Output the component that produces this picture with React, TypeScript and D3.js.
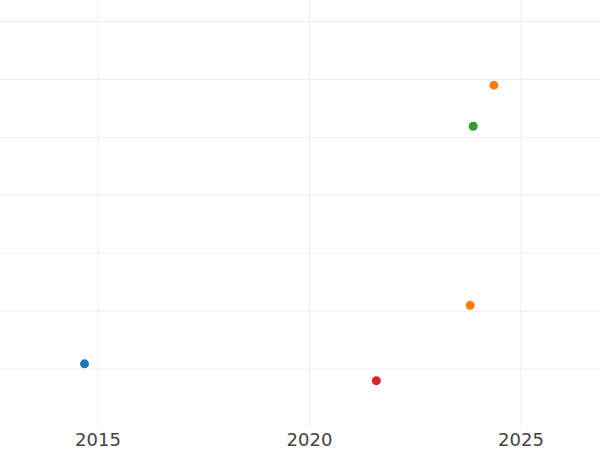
import React from "react";
import * as d3 from "d3";

const WIDTH = 600;
const HEIGHT = 450;

const xTicks = [2015, 2020, 2025];
const yTicks = [0, 10, 20, 30, 40, 50, 60];

const seriesNames = ["A", "B", "C", "D"];
const seriesColors = ["#1f77b4", "#ff7f0e", "#2ca02c", "#d62728"];

const seriesAYears = [2014.68];
const seriesAValues = [0.9];
const seriesBYears = [2023.8, 2024.36];
const seriesBValues = [11.0, 49.0];
const seriesCYears = [2023.87];
const seriesCValues = [41.9];
const seriesDYears = [2021.58];
const seriesDValues = [-2.0];

const allYears = [seriesAYears, seriesBYears, seriesCYears, seriesDYears];
const allValues = [seriesAValues, seriesBValues, seriesCValues, seriesDValues];

export default function App() {
  const plotBottom = 427;
  const x = d3.scaleLinear().domain([2012.683, 2026.868]).range([0, WIDTH]);
  const y = d3.scaleLinear().domain([-10, 63.7]).range([plotBottom, 0]);

  const points = seriesNames.flatMap((name, si) =>
    allYears[si].map((yr, i) => ({
      key: `${name}-${i}`,
      cx: x(yr),
      cy: y(allValues[si][i]),
      color: seriesColors[si],
    }))
  );

  return (
    <svg
      width={WIDTH}
      height={HEIGHT}
      style={{ position: "absolute", top: 0, left: 0, background: "#fff" }}
    >
      <rect x={0} y={0} width={WIDTH} height={HEIGHT} fill="#fff" />
      <g>
        {yTicks.map((t) => (
          <line
            key={`gy${t}`}
            x1={0}
            x2={WIDTH}
            y1={y(t)}
            y2={y(t)}
            stroke="#eeeeee"
            strokeWidth={1}
          />
        ))}
        {xTicks.map((t) => (
          <line
            key={`gx${t}`}
            x1={x(t)}
            x2={x(t)}
            y1={0}
            y2={plotBottom}
            stroke="#eeeeee"
            strokeWidth={1}
          />
        ))}
      </g>
      <g>
        {points.map((p) => (
          <circle key={p.key} cx={p.cx} cy={p.cy} r={4.5} fill={p.color} />
        ))}
      </g>
      <g>
        {xTicks.map((t) => (
          <text
            key={`tx${t}`}
            x={x(t)}
            y={446}
            textAnchor="middle"
            fontFamily="'DejaVu Sans', sans-serif"
            fontSize={18}
            fill="#444"
          >
            {t}
          </text>
        ))}
      </g>
    </svg>
  );
}
